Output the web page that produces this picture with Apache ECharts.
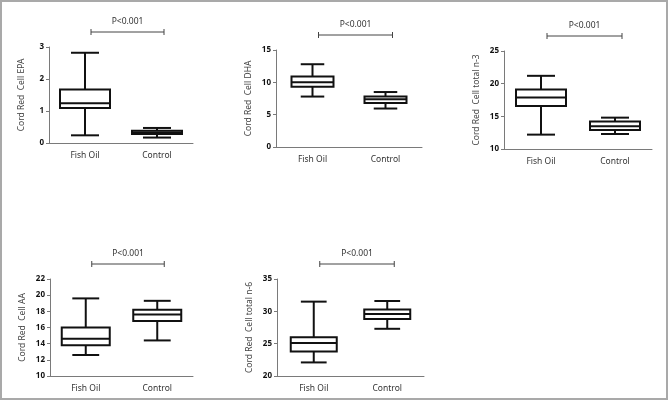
<!DOCTYPE html>
<html>
<head>
<meta charset="utf-8">
<script src="https://cdn.jsdelivr.net/npm/echarts@6/dist/echarts.min.js"></script>
<style>html,body{margin:0;padding:0;background:#fff;}#c{width:669px;height:401px;}</style>
</head>
<body>
<div id="c"></div>
<script>
// ---- data (min, Q1, median, Q3, max) ----
const categories = ['Fish Oil', 'Control'];
const pLabel = 'P<0.001';

const epaFishOil = [0.24, 1.09, 1.24, 1.67, 2.82];
const epaControl = [0.17, 0.28, 0.33, 0.38, 0.47];
const epaTicks = [0, 1, 2, 3];

const dhaFishOil = [7.8, 9.3, 10.0, 10.9, 12.8];
const dhaControl = [5.95, 6.8, 7.4, 7.8, 8.5];
const dhaTicks = [0, 5, 10, 15];

const n3FishOil = [12.2, 16.6, 17.9, 19.1, 21.2];
const n3Control = [12.3, 12.9, 13.5, 14.2, 14.8];
const n3Ticks = [10, 15, 20, 25];

const aaFishOil = [12.6, 13.8, 14.6, 16.0, 19.6];
const aaControl = [14.4, 16.8, 17.6, 18.2, 19.3];
const aaTicks = [10, 12, 14, 16, 18, 20, 22];

const n6FishOil = [22.1, 23.8, 25.1, 26.0, 31.5];
const n6Control = [27.3, 28.8, 29.6, 30.3, 31.6];
const n6Ticks = [20, 25, 30, 35];

const yNames = ['Cord Red  Cell EPA', 'Cord Red  Cell DHA', 'Cord Red  Cell total n-3', 'Cord Red  Cell AA', 'Cord Red  Cell total n-6'];

const panels = [
  { fo: epaFishOil, ctl: epaControl, ticks: epaTicks, name: yNames[0] },
  { fo: dhaFishOil, ctl: dhaControl, ticks: dhaTicks, name: yNames[1] },
  { fo: n3FishOil, ctl: n3Control, ticks: n3Ticks, name: yNames[2] },
  { fo: aaFishOil, ctl: aaControl, ticks: aaTicks, name: yNames[3] },
  { fo: n6FishOil, ctl: n6Control, ticks: n6Ticks, name: yNames[4] }
];

// ---- layout ----
const grids = [
  { left: 49, top: 47, width: 144, height: 96 },
  { left: 276, top: 50, width: 146, height: 97 },
  { left: 504, top: 51, width: 148, height: 98 },
  { left: 50, top: 279, width: 143, height: 97 },
  { left: 277, top: 279, width: 147, height: 97 }
];
const boxWidths = [50, 42, 50, 48, 46];

const FONT = 'Noto Sans';
const AXIS_COLOR = '#7a7a7a';
const BOX_COLOR = '#111';

function boxRender(bw) {
  return function (params, api) {
    const cat = api.value(0);
    const x = api.coord([cat, api.value(3)])[0];
    const yMin = api.coord([cat, api.value(1)])[1];
    const yQ1 = api.coord([cat, api.value(2)])[1];
    const yMed = api.coord([cat, api.value(3)])[1];
    const yQ3 = api.coord([cat, api.value(4)])[1];
    const yMax = api.coord([cat, api.value(5)])[1];
    const hw = bw / 2;
    const cw = bw * 0.28;
    const st = { stroke: BOX_COLOR, lineWidth: 2, fill: null };
    return {
      type: 'group',
      children: [
        { type: 'rect', shape: { x: x - hw, y: yQ3, width: bw, height: yQ1 - yQ3 }, style: { stroke: BOX_COLOR, lineWidth: 2, fill: '#fff' } },
        { type: 'line', shape: { x1: x - hw, y1: yMed, x2: x + hw, y2: yMed }, style: st },
        { type: 'line', shape: { x1: x, y1: yQ3, x2: x, y2: yMax }, style: st },
        { type: 'line', shape: { x1: x, y1: yQ1, x2: x, y2: yMin }, style: st },
        { type: 'line', shape: { x1: x - cw, y1: yMax, x2: x + cw, y2: yMax }, style: st },
        { type: 'line', shape: { x1: x - cw, y1: yMin, x2: x + cw, y2: yMin }, style: st }
      ]
    };
  };
}

function bracketRender(topVal) {
  return function (params, api) {
    const p1 = api.coord([0, topVal]);
    const p2 = api.coord([1, topVal]);
    const x1 = p1[0] + 6, x2 = p2[0] + 7;
    const y = p1[1] - 15;
    const st = { stroke: '#444', lineWidth: 1 };
    return {
      type: 'group',
      children: [
        { type: 'line', shape: { x1: x1, y1: y, x2: x2, y2: y }, style: st },
        { type: 'line', shape: { x1: x1, y1: y - 3, x2: x1, y2: y + 3 }, style: st },
        { type: 'line', shape: { x1: x2, y1: y - 3, x2: x2, y2: y + 3 }, style: st },
        { type: 'text', x: (x1 + x2) / 2, y: y - 10.5, style: { text: pLabel, font: '8.5px "' + FONT + '"', fill: '#333', align: 'center', verticalAlign: 'middle' } }
      ]
    };
  };
}

const option = {
  animation: false,
  backgroundColor: '#fff',
  grid: [], xAxis: [], yAxis: [], series: [],
  graphic: [{ type: 'rect', shape: { x: 1, y: 1, width: 666, height: 398 }, style: { fill: null, stroke: '#a9a9a9', lineWidth: 2 }, silent: true }]
};

panels.forEach((p, i) => {
  option.grid.push(Object.assign({ outerBoundsMode: 'none', containLabel: false }, grids[i]));
  option.xAxis.push({
    type: 'category', gridIndex: i, data: categories, boundaryGap: true,
    axisLine: { lineStyle: { color: AXIS_COLOR, width: 1 } },
    axisTick: { alignWithLabel: true, length: 3, lineStyle: { color: AXIS_COLOR } },
    axisLabel: { color: '#333', fontSize: 8.5, fontFamily: FONT, margin: 8 },
    splitLine: { show: false }
  });
  const t = p.ticks;
  option.yAxis.push({
    type: 'value', gridIndex: i, min: t[0], max: t[t.length - 1], interval: t[1] - t[0],
    name: p.name, nameLocation: 'middle', nameGap: 23, nameRotate: 90,
    nameTextStyle: { color: '#444', fontSize: 8.5, fontFamily: FONT },
    axisLine: { show: true, lineStyle: { color: AXIS_COLOR, width: 1 } },
    axisTick: { show: true, length: 3, lineStyle: { color: AXIS_COLOR } },
    axisLabel: { color: '#111', fontSize: 8, fontWeight: 'bold', fontFamily: FONT, margin: 5 },
    splitLine: { show: false }
  });
  option.series.push({
    type: 'custom', xAxisIndex: i, yAxisIndex: i, clip: false,
    renderItem: boxRender(boxWidths[i]),
    encode: { x: 0, y: [1, 2, 3, 4, 5] },
    data: [[0].concat(p.fo), [1].concat(p.ctl)]
  });
  option.series.push({
    type: 'custom', xAxisIndex: i, yAxisIndex: i, clip: false,
    renderItem: bracketRender(t[t.length - 1]),
    encode: { x: 0, y: 1 },
    data: [[0, t[t.length - 1]]]
  });
});

const chart = echarts.init(document.getElementById('c'), null, { renderer: 'canvas' });
chart.setOption(option);
</script>
</body>
</html>
